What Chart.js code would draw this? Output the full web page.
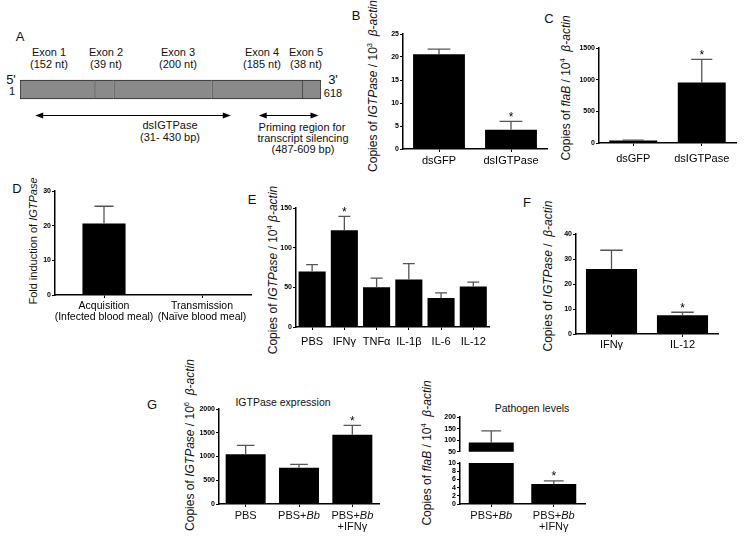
<!DOCTYPE html>
<html>
<head>
<meta charset="utf-8">
<title>IGTPase figure</title>
<script src="https://cdn.jsdelivr.net/npm/chart.js@4.4.1/dist/chart.umd.min.js"></script>
<style>
  html, body { margin: 0; padding: 0; background: #fff; }
  body { position: relative; width: 750px; height: 545px; overflow: hidden; font-family: 'Liberation Sans', Arial, sans-serif; color: #111; }
  canvas { position: absolute; }
  .t { position: absolute; transform: translate(-50%, -50%); white-space: nowrap; line-height: 1; font-size: 11px; }
  .a { font-size: 11px; }
  .p { font-size: 13px; }
  .yl { position: absolute; transform: translate(-50%, -50%) rotate(-90deg); white-space: nowrap; line-height: 1; font-size: 12px; }
  .yl sup { font-size: 7.5px; line-height: 0; }
  .xl { position: absolute; transform: translateX(-50%); text-align: center; white-space: nowrap; font-size: 11px; line-height: 11px; }
</style>
</head>
<body>

<!-- panel letters -->
<div class="t p" style="left:20px;top:36px">A</div>
<div class="t p" style="left:356px;top:15px">B</div>
<div class="t p" style="left:549px;top:18px">C</div>
<div class="t p" style="left:17px;top:188px">D</div>
<div class="t p" style="left:252px;top:199px">E</div>
<div class="t p" style="left:527px;top:202px">F</div>
<div class="t p" style="left:152px;top:404px">G</div>

<!-- panel A texts -->
<div id="exonText"></div>
<div class="t p" style="left:11px;top:79px">5'</div>
<div class="t a" style="left:12px;top:91px">1</div>
<div class="t p" style="left:333px;top:79px">3'</div>
<div class="t a" style="left:333px;top:93px">618</div>
<div class="t a" style="left:170px;top:125px">dsIGTPase</div>
<div class="t a" style="left:170px;top:137px">(31- 430 bp)</div>
<div class="t a" style="left:302px;top:127px">Priming region for</div>
<div class="t a" style="left:303px;top:138px">transcript silencing</div>
<div class="t a" style="left:303px;top:149px">(487-609 bp)</div>

<!-- y axis titles -->
<div class="yl" style="left:373px;top:86px">Copies of <i>IGTPase</i> / 10<sup>3</sup>&nbsp; <i>β-actin</i></div>
<div class="yl" style="left:566px;top:88px">Copies of <i>flaB</i> / 10<sup>4</sup>&nbsp; <i>β-actin</i></div>
<div class="yl" style="left:33px;top:241px;font-size:11px">Fold induction of <i>IGTPase</i></div>
<div class="yl" style="left:273px;top:270px">Copies of <i>IGTPase</i> / 10<sup>4</sup> <i>β-actin</i></div>
<div class="yl" style="left:548px;top:276px">Copies of <i>IGTPase</i> /&nbsp; <i>β-actin</i></div>
<div class="yl" style="left:190px;top:445px">Copies of <i>IGTPase</i> / 10<sup>6</sup>&nbsp; <i>β-actin</i></div>
<div class="yl" style="left:427px;top:453px">Copies of <i>flaB</i> / 10<sup>4</sup>&nbsp; <i>β-actin</i></div>

<!-- G titles -->
<div class="t" style="left:283px;top:402px;font-size:10.5px">IGTPase expression</div>
<div class="t" style="left:532px;top:408px;font-size:10.5px">Pathogen levels</div>

<canvas id="cA" width="301" height="63" style="left:20px;top:58px"></canvas>
<canvas id="cB" width="172" height="145" style="left:377px;top:28px"></canvas>
<canvas id="cC" width="165" height="127" style="left:573px;top:42px"></canvas>
<canvas id="cD" width="224" height="144" style="left:29px;top:185px"></canvas>
<canvas id="cE" width="222" height="151" style="left:270px;top:202px"></canvas>
<canvas id="cF" width="170" height="130" style="left:550px;top:228px"></canvas>
<canvas id="cG1" width="188" height="107" style="left:193px;top:403px"></canvas>
<canvas id="cG2u" width="153" height="46" style="left:434px;top:411px"></canvas>
<canvas id="cG2l" width="153" height="53" style="left:434px;top:457px"></canvas>

<script>
const FONT = "'Liberation Sans', Arial, sans-serif";
Chart.defaults.font.family = FONT;
Chart.defaults.color = '#000';

// A: gene structure
const exonNames = ['Exon 1', 'Exon 2', 'Exon 3', 'Exon 4', 'Exon 5'];
const exonLengths = [152, 39, 200, 185, 38];
const dsIGTPaseRange = [31, 430];
const primingRange = [487, 609];

// B: silencing
const bLabels = ['dsGFP', 'dsIGTPase'];
const bValues = [20.6, 4.2];
const bErrors = [1.1, 1.8];
const bStars = [false, true];
const bTicks = [0, 5, 10, 15, 20, 25];

// C: flaB after silencing
const cLabels = ['dsGFP', 'dsIGTPase'];
const cValues = [40, 955];
const cErrors = [6, 365];
const cStars = [false, true];
const cTicks = [0, 500, 1000, 1500];

// D: fold induction
const dLabels = [['Acquisition', '(Infected blood meal)'], ['Transmission', '(Naïve blood meal)']];
const dValues = [20.6, 0];
const dErrors = [5.0, 0];
const dTicks = [0, 10, 20, 30];

// E: cytokines
const eLabels = ['PBS', 'IFNγ', 'TNFα', 'IL-1β', 'IL-6', 'IL-12'];
const eValues = [70, 122, 50, 60, 36.5, 51];
const eErrors = [8.5, 17.5, 11.5, 20, 6.5, 5.5];
const eStars = [false, true, false, false, false, false];
const eTicks = [0, 50, 100, 150];

// F
const fLabels = ['IFNγ', 'IL-12'];
const fValues = [26, 7.5];
const fErrors = [7.5, 1.2];
const fStars = [false, true];
const fTicks = [0, 10, 20, 30, 40];

// G: IGTPase expression
const gExprLabels = [['PBS'], ['PBS+Bb'], ['PBS+Bb', '+IFNγ']];
const gExprValues = [1050, 765, 1460];
const gExprErrors = [185, 70, 195];
const gExprStars = [false, false, true];
const gExprTicks = [0, 500, 1000, 1500, 2000];

// G: pathogen levels (broken axis)
const gPathLabels = [['PBS+Bb'], ['PBS+Bb', '+IFNγ']];
const gPathValues = [90, 4.85];
const gPathErrors = [50, 0.8];
const gPathStars = [false, true];
const gPathTicksHigh = [50, 100, 150, 200];
const gPathTicksLow = [0, 2, 4, 6, 8, 10];

// exon labels over the gene bar
const exonLabelX = [49, 106, 178, 262, 306];
document.getElementById('exonText').innerHTML = exonNames.map((n, i) =>
  `<div class="t a" style="left:${exonLabelX[i]}px;top:52px">${n}</div>` +
  `<div class="t a" style="left:${exonLabelX[i]}px;top:64px">(${exonLengths[i]} nt)</div>`
).join('');

// upper error bars + significance stars
const errorBars = {
  id: 'errorBars',
  afterDatasetsDraw(chart, args, opts) {
    const ctx = chart.ctx;
    const y = chart.scales.y;
    const data = chart.data.datasets[0].data;
    chart.getDatasetMeta(0).data.forEach((bar, i) => {
      const v = data[i];
      if (v < y.min || v > y.max) return;
      const e = (opts.errors || [])[i] || 0;
      const top = y.getPixelForValue(v + e);
      const half = bar.width * 0.22;
      ctx.save();
      if (e > 0) {
        ctx.strokeStyle = '#555';
        ctx.lineWidth = 1.3;
        ctx.beginPath();
        ctx.moveTo(bar.x, bar.y);
        ctx.lineTo(bar.x, top);
        ctx.moveTo(bar.x - half, top);
        ctx.lineTo(bar.x + half, top);
        ctx.stroke();
      }
      if ((opts.stars || [])[i]) {
        ctx.fillStyle = '#000';
        ctx.font = '12px ' + FONT;
        ctx.textAlign = 'center';
        ctx.textBaseline = 'alphabetic';
        ctx.fillText('*', bar.x, top - 0.5);
      }
      ctx.restore();
    });
  }
};

function barChart(id, o) {
  return new Chart(document.getElementById(id), {
    type: 'bar',
    data: {
      labels: o.labels,
      datasets: [{ data: o.values, backgroundColor: '#000', borderWidth: 0, barPercentage: o.bar, categoryPercentage: 1 }]
    },
    options: {
      responsive: false,
      animation: false,
      events: [],
      layout: { padding: { top: 6, right: 2, left: 0, bottom: 0 } },
      plugins: {
        legend: { display: false },
        tooltip: { enabled: false },
        errorBars: { errors: o.errors, stars: o.stars || [] }
      },
      scales: {
        x: {
          display: o.showX !== false,
          grid: { drawOnChartArea: false, offset: false, tickLength: 3, color: '#000', tickColor: '#000', lineWidth: 1 },
          border: { color: '#000', width: 1.5 },
          ticks: { display: o.xTicks !== false, font: { size: o.xFont || 11, lineHeight: 1.05 }, padding: o.xPad === undefined ? 3 : o.xPad, maxRotation: 0, autoSkip: false },
          afterFit: s => { s.height = o.xH || 0; }
        },
        y: {
          min: o.ticks[0],
          max: o.ticks[o.ticks.length - 1],
          afterBuildTicks: s => { s.ticks = o.ticks.map(v => ({ value: v })); },
          grid: { drawOnChartArea: false, tickLength: 3, color: '#000', tickColor: '#000', lineWidth: 1 },
          border: { color: '#000', width: 1.5 },
          ticks: { font: { size: 7, weight: 'bold' }, padding: 1, autoSkip: false, callback: v => String(v) },
          afterFit: s => { s.width = 26; }
        }
      }
    },
    plugins: [errorBars]
  });
}

// category labels with italic Bb, placed from the chart's own x scale
function placeXLabels(chart, id, labels) {
  const cv = document.getElementById(id);
  const x0 = parseFloat(cv.style.left), y0 = parseFloat(cv.style.top);
  labels.forEach((lines, i) => {
    const d = document.createElement('div');
    d.className = 'xl';
    d.style.left = (x0 + chart.scales.x.getPixelForValue(i)) + 'px';
    d.style.top = (y0 + chart.chartArea.bottom + 6) + 'px';
    d.innerHTML = lines.map(s => s.replace('Bb', '<i>Bb</i>')).join('<br>');
    document.body.appendChild(d);
  });
}

// A: stacked exons + arrows for the dsRNA and priming regions
const arrows = {
  id: 'arrows',
  afterDraw(chart, args, opts) {
    const ctx = chart.ctx;
    const x = chart.scales.x;
    const yy = chart.getDatasetMeta(0).data[0].y + 26;
    opts.ranges.forEach(r => {
      const x1 = x.getPixelForValue(r[0]), x2 = x.getPixelForValue(r[1]);
      ctx.save();
      ctx.strokeStyle = '#000';
      ctx.fillStyle = '#000';
      ctx.lineWidth = 1;
      ctx.beginPath();
      ctx.moveTo(x1 + 4, yy);
      ctx.lineTo(x2 - 4, yy);
      ctx.stroke();
      ctx.beginPath();
      ctx.moveTo(x1, yy); ctx.lineTo(x1 + 8, yy - 3); ctx.lineTo(x1 + 8, yy + 3); ctx.closePath();
      ctx.moveTo(x2, yy); ctx.lineTo(x2 - 8, yy - 3); ctx.lineTo(x2 - 8, yy + 3); ctx.closePath();
      ctx.fill();
      ctx.restore();
    });
  }
};

new Chart(document.getElementById('cA'), {
  type: 'bar',
  data: {
    labels: [''],
    datasets: exonLengths.map((len, i) => ({
      label: exonNames[i],
      data: [len],
      backgroundColor: '#8a8a8a',
      borderColor: '#2a2a2a',
      borderWidth: i === exonLengths.length - 1 ? 1 : { top: 1, bottom: 1, left: 1, right: 0 },
      borderSkipped: false,
      barThickness: 19
    }))
  },
  options: {
    indexAxis: 'y',
    responsive: false,
    animation: false,
    events: [],
    layout: { padding: 0 },
    plugins: { legend: { display: false }, tooltip: { enabled: false }, arrows: { ranges: [dsIGTPaseRange, primingRange] } },
    scales: {
      x: { display: false, stacked: true, min: 0, max: exonLengths.reduce((a, b) => a + b, 0) },
      y: { display: false, stacked: true }
    }
  },
  plugins: [arrows]
});

barChart('cB', { labels: bLabels, values: bValues, errors: bErrors, stars: bStars, ticks: bTicks, bar: 0.72, xH: 24, xPad: 3 });
barChart('cC', { labels: cLabels, values: cValues, errors: cErrors, stars: cStars, ticks: cTicks, bar: 0.7, xH: 26, xPad: 7 });
barChart('cD', { labels: dLabels, values: dValues, errors: dErrors, ticks: dTicks, bar: 0.44, xH: 34, xPad: 3, xFont: 10.5 });
barChart('cE', { labels: eLabels, values: eValues, errors: eErrors, stars: eStars, ticks: eTicks, bar: 0.84, xH: 26, xPad: 6 });
barChart('cF', { labels: fLabels, values: fValues, errors: fErrors, stars: fStars, ticks: fTicks, bar: 0.72, xH: 24, xPad: 2 });

const gExpr = barChart('cG1', { labels: gExprLabels, values: gExprValues, errors: gExprErrors, stars: gExprStars, ticks: gExprTicks, bar: 0.75, xH: 6, xTicks: false });
placeXLabels(gExpr, 'cG1', gExprLabels);

barChart('cG2u', { labels: gPathLabels, values: gPathValues, errors: gPathErrors, stars: gPathStars, ticks: gPathTicksHigh, bar: 0.72, showX: false });
const gPath = barChart('cG2l', { labels: gPathLabels, values: gPathValues, errors: gPathErrors, stars: gPathStars, ticks: gPathTicksLow, bar: 0.72, xH: 6, xTicks: false });
placeXLabels(gPath, 'cG2l', gPathLabels);
</script>
</body>
</html>
